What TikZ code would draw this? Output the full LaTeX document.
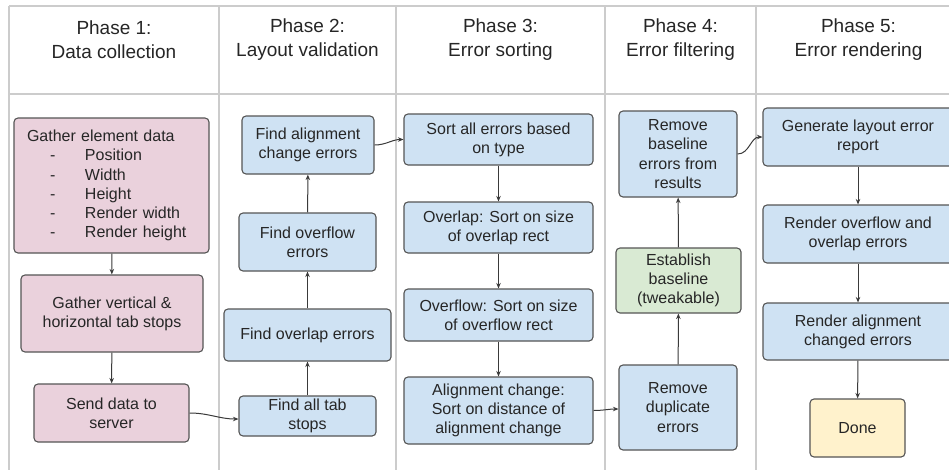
\documentclass[tikz,border=0pt]{standalone}
\usepackage{fontspec}
\setmainfont{Liberation Sans}
\usetikzlibrary{arrows.meta}
\definecolor{pinkfill}{HTML}{EAD1DC}
\definecolor{bluefill}{HTML}{CFE2F3}
\definecolor{greenfill}{HTML}{D9EAD3}
\definecolor{yellowfill}{HTML}{FFF2CC}
\definecolor{boxline}{HTML}{555555}
\definecolor{gridline}{HTML}{CCCCCC}
\definecolor{arrowline}{HTML}{3A3A3A}
\tikzset{
  box/.style={draw=boxline, line width=1.1pt, rounded corners=4pt, align=center,
    inner sep=0pt, font=\fontsize{16}{19.2}\selectfont, text=black!85},
  pinkbox/.style={box, fill=pinkfill},
  bluebox/.style={box, fill=bluefill},
  greenbox/.style={box, fill=greenfill},
  yellowbox/.style={box, fill=yellowfill},
  header/.style={align=center, inner sep=0pt, font=\fontsize{19}{24}\selectfont, text=black!85},
  grid/.style={draw=gridline, line width=1.6pt},
  flow/.style={draw=arrowline, line width=1pt, -{Stealth[length=5.5pt,width=4.5pt]}}
}
\newcommand{\itm}[1]{\makebox[58pt][l]{\hspace*{23pt}-}#1}
\begin{document}
\begin{tikzpicture}[x=1pt,y=-1pt]
\useasboundingbox (0,0) rectangle (949,469);
\clip (0,0) rectangle (949,469);
\fill[white] (0,0) rectangle (949,469);
% table grid
\coordinate (tl) at (9,6);
\coordinate (tr) at (960,6);
\coordinate (hl) at (9,94);
\coordinate (hr) at (960,94);
\path[grid] (tl) -- (tr);
\path[grid] (hl) -- (hr);
\path[grid] (9,6) -- (9,480);
\path[grid] (219,6) -- (219,480);
\path[grid] (396,6) -- (396,480);
\path[grid] (605,6) -- (605,480);
\path[grid] (756,6) -- (756,480);
% headers
\node[header] (h1) at (114,40) {Phase 1:\\Data collection};
\node[header] (h2) at (307.5,40) {Phase 2:\\Layout validation};
\node[header] (h3) at (500.5,40) {Phase 3:\\Error sorting};
\node[header] (h4) at (680.5,40) {Phase 4:\\Error filtering};
\node[header] (h5) at (858.5,40) {Phase 5:\\Error rendering};
% phase 1
\node[pinkbox, align=left, text width=169pt, inner xsep=13pt, minimum height=135pt] (g1) at (111.5,185.5)
  {Gather element data\\\itm{Position}\\\itm{Width}\\\itm{Height}\\\itm{Render width}\\\itm{Render height}};
\node[pinkbox, minimum width=182pt, minimum height=77pt] (g2) at (112,313.5) {Gather vertical \&\\horizontal tab stops};
\node[pinkbox, minimum width=155pt, minimum height=58pt] (g3) at (111.5,413) {Send data to\\server};
% phase 2
\node[bluebox, minimum width=132pt, minimum height=58pt] (p2a) at (308,145) {Find alignment\\change errors};
\node[bluebox, minimum width=137pt, minimum height=58pt] (p2b) at (307.5,242) {Find overflow\\errors};
\node[bluebox, minimum width=167pt, minimum height=52pt] (p2c) at (307.5,335) {Find overlap errors};
\node[bluebox, minimum width=137pt, minimum height=40pt] (p2d) at (307.5,416) {Find all tab\\stops};
% phase 3
\node[bluebox, minimum width=189pt, minimum height=51pt] (p3a) at (498.5,139.5) {Sort all errors based\\on type};
\node[bluebox, minimum width=189pt, minimum height=51pt] (p3b) at (498.5,227.5) {Overlap: Sort on size\\of overlap rect};
\node[bluebox, minimum width=189pt, minimum height=52pt] (p3c) at (498.5,315) {Overflow: Sort on size\\of overflow rect};
\node[bluebox, minimum width=189pt, minimum height=67pt] (p3d) at (498.5,410.5) {Alignment change:\\Sort on distance of\\alignment change};
% phase 4
\node[bluebox, minimum width=118pt, minimum height=86pt] (p4a) at (678,154) {Remove\\baseline\\errors from\\results};
\node[greenbox, minimum width=125pt, minimum height=65pt] (p4b) at (678.5,280.5) {Establish\\baseline\\(tweakable)};
\node[bluebox, minimum width=118pt, minimum height=85pt] (p4c) at (678,407.5) {Remove\\duplicate\\errors};
% phase 5
\node[bluebox, minimum width=190pt, minimum height=58pt] (p5a) at (858,137) {Generate layout error\\report};
\node[bluebox, minimum width=190pt, minimum height=58pt] (p5b) at (858,234) {Render overflow and\\overlap errors};
\node[bluebox, minimum width=190pt, minimum height=57pt] (p5c) at (858,331.5) {Render alignment\\changed errors};
\node[yellowbox, minimum width=95pt, minimum height=58pt] (done) at (857.5,428) {Done};
% connectors
\draw[flow] (g1) -- (g2);
\draw[flow] (g2) -- (g3);
\draw[flow] (g3.east) to[out=0,in=180] ([yshift=-3pt]p2d.west);
\draw[flow] (p2d) -- (p2c);
\draw[flow] (p2c) -- (p2b);
\draw[flow] (p2b) -- (p2a);
\draw[flow] (p2a.east) to[out=0,in=180] (p3a.west);
\draw[flow] (p3a) -- (p3b);
\draw[flow] (p3b) -- (p3c);
\draw[flow] (p3c) -- (p3d);
\draw[flow] (p3d.east) to[out=0,in=180] ([yshift=-1.5pt]p4c.west);
\draw[flow] (p4c) -- (p4b);
\draw[flow] (p4b) -- (p4a);
\draw[flow] (p4a.east) to[out=0,in=180] (p5a.west);
\draw[flow] (p5a) -- (p5b);
\draw[flow] (p5b) -- (p5c);
\draw[flow] (p5c) -- (done);
\end{tikzpicture}
\end{document}
